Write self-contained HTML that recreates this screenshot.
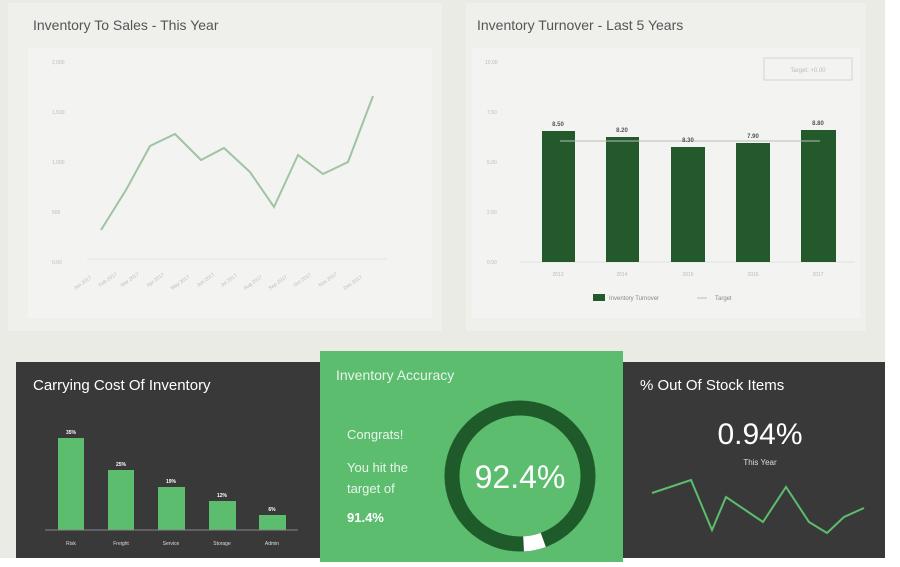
<!DOCTYPE html>
<html><head><style>
body{margin:0;width:900px;height:562px;background:#fff;font-family:"Liberation Sans",sans-serif;overflow:hidden}
</style></head><body>
<svg width="900" height="562" viewBox="0 0 900 562" xmlns="http://www.w3.org/2000/svg" font-family="Liberation Sans, sans-serif">
<rect x="0" y="0" width="885" height="558" fill="#ebebe6"/>
<rect x="8" y="3" width="434" height="328" fill="#efefeb"/>
<rect x="466" y="3" width="400" height="328" fill="#efefeb"/>
<rect x="28" y="48" width="404" height="270" fill="#f3f3f1"/>
<rect x="472" y="48" width="388" height="270" fill="#f3f3f1"/>
<text x="33" y="30" font-size="14" fill="#555">Inventory To Sales - This Year</text>
<text x="477" y="30" font-size="14" fill="#555">Inventory Turnover - Last 5 Years</text>
<g font-size="5" fill="#bbb">
<text x="52" y="64">2,000</text><text x="52" y="114">1,500</text><text x="52" y="164">1,000</text><text x="52" y="214">500</text><text x="52" y="264">0.00</text>
<text x="485" y="64">10.00</text><text x="487" y="114">7.50</text><text x="487" y="164">5.00</text><text x="487" y="214">2.50</text><text x="487" y="264">0.00</text>
</g>
<line x1="87" y1="259" x2="387" y2="259" stroke="#dfe5dd" stroke-width="1"/>
<polyline points="101,230 126,190 150,146 175,134 201,160 224,148 250,172 274,207 298,155 323,174 348,162 373,96" fill="none" stroke="#9fc3a3" stroke-width="2"/>
<g font-size="5" fill="#bbb">
<text transform="translate(75,290) rotate(-35)">Jan 2017</text>
<text transform="translate(100,287) rotate(-35)">Feb 2017</text>
<text transform="translate(122,287) rotate(-35)">Mar 2017</text>
<text transform="translate(148,287) rotate(-35)">Apr 2017</text>
<text transform="translate(172,290) rotate(-35)">May 2017</text>
<text transform="translate(198,287) rotate(-35)">Jun 2017</text>
<text transform="translate(222,287) rotate(-35)">Jul 2017</text>
<text transform="translate(245,290) rotate(-35)">Aug 2017</text>
<text transform="translate(270,290) rotate(-35)">Sep 2017</text>
<text transform="translate(295,287) rotate(-35)">Oct 2017</text>
<text transform="translate(320,287) rotate(-35)">Nov 2017</text>
<text transform="translate(345,290) rotate(-35)">Dec 2017</text>
</g>
<rect x="764" y="58" width="88" height="22" fill="none" stroke="#d5d5d5"/>
<text x="808" y="72" font-size="6" fill="#bbb" text-anchor="middle">Target: +0.00</text>
<line x1="520" y1="262" x2="855" y2="262" stroke="#e0e0e0"/>
<g fill="#24592b">
<rect x="542" y="131" width="33" height="131"/>
<rect x="606" y="137" width="33" height="125"/>
<rect x="671" y="147" width="34" height="115"/>
<rect x="736" y="143" width="34" height="119"/>
<rect x="801" y="130" width="35" height="132"/>
</g>
<line x1="560" y1="141" x2="820" y2="141" stroke="#b5bfb5" stroke-width="1"/>
<g font-size="6" fill="#555" text-anchor="middle" font-weight="bold">
<text x="558" y="126">8.50</text><text x="622" y="132">8.20</text><text x="688" y="142">8.30</text><text x="753" y="138">7.90</text><text x="818" y="125">8.80</text>
</g>
<g font-size="5" fill="#bbb" text-anchor="middle">
<text x="558" y="276">2013</text><text x="622" y="276">2014</text><text x="688" y="276">2015</text><text x="753" y="276">2016</text><text x="818" y="276">2017</text>
</g>
<rect x="593" y="294" width="12" height="7" fill="#24592b"/>
<text x="609" y="300" font-size="6" fill="#888">Inventory Turnover</text>
<line x1="697" y1="298" x2="707" y2="298" stroke="#bbb"/>
<text x="715" y="300" font-size="6" fill="#888">Target</text>

<rect x="16" y="362" width="304" height="196" fill="#393939"/>
<rect x="623" y="362" width="262" height="196" fill="#393939"/>
<rect x="320" y="351" width="303" height="211" fill="#5cbd6e"/>
<text x="33" y="390" font-size="15" fill="#fff">Carrying Cost Of Inventory</text>
<g fill="#5cbd6e">
<rect x="58" y="438" width="26" height="92"/>
<rect x="108" y="470" width="26" height="60"/>
<rect x="158" y="487" width="27" height="43"/>
<rect x="209" y="501" width="27" height="29"/>
<rect x="259" y="515" width="27" height="15"/>
</g>
<line x1="45" y1="530" x2="298" y2="530" stroke="#888"/>
<g font-size="5" fill="#fff" text-anchor="middle" font-weight="bold">
<text x="71" y="434">35%</text><text x="121" y="466">25%</text><text x="171" y="483">19%</text><text x="222" y="497">12%</text><text x="272" y="511">6%</text>
</g>
<g font-size="5" fill="#ddd" text-anchor="middle">
<text x="71" y="545">Risk</text><text x="121" y="545">Freight</text><text x="171" y="545">Service</text><text x="222" y="545">Storage</text><text x="272" y="545">Admin</text>
</g>
<text x="336" y="380" font-size="14" fill="#e8f5ea">Inventory Accuracy</text>
<text x="347" y="439" font-size="13" fill="#e8f5ea">Congrats!</text>
<text x="347" y="472" font-size="13" fill="#e8f5ea">You hit the</text>
<text x="347" y="493" font-size="13" fill="#e8f5ea">target of</text>
<text x="347" y="522" font-size="13" fill="#fff" font-weight="bold">91.4%</text>
<circle cx="520" cy="476" r="68" fill="none" stroke="#1f5a2a" stroke-width="15"/>
<path d="M 543.3 539.9 A 68 68 0 0 1 523.6 543.9" fill="none" stroke="#fff" stroke-width="15"/>
<text x="520" y="488" font-size="32" fill="#fff" text-anchor="middle">92.4%</text>
<text x="640" y="390" font-size="15" fill="#fff">% Out Of Stock Items</text>
<text x="760" y="444" font-size="30" fill="#fff" text-anchor="middle">0.94%</text>
<text x="760" y="465" font-size="8" fill="#ddd" text-anchor="middle">This Year</text>
<polyline points="652,493 691,480 712,530 726,497 763,522 786,487 809,522 827,533 844,517 864,508" fill="none" stroke="#5cbd6e" stroke-width="2"/>
</svg>
</body></html>
